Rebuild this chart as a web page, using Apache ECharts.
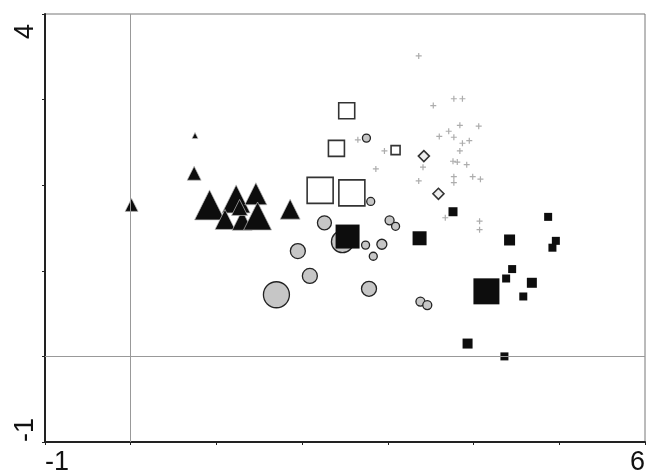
<!DOCTYPE html>
<html>
<head>
<meta charset="utf-8">
<script src="https://cdn.jsdelivr.net/npm/echarts@6/dist/echarts.min.js"></script>
<style>
html,body{margin:0;padding:0;background:#fff;}
#chart{width:648px;height:476px;}
</style>
</head>
<body>
<div id="chart"></div>
<script>
// [x, y, size]
var triangles = [
    [0.01, 1.77, 13], [0.74, 2.14, 14], [0.75, 2.58, 6],
    [0.92, 1.77, 30], [1.23, 1.84, 28], [1.46, 1.90, 22],
    [1.10, 1.60, 20], [1.30, 1.59, 20], [1.48, 1.64, 28],
    [1.27, 1.74, 16], [1.86, 1.72, 20]
];
var grayCircles = [
    [2.26, 1.56, 14], [1.95, 1.23, 15], [2.75, 2.55, 8], [2.80, 1.81, 8],
    [3.02, 1.59, 9], [3.09, 1.52, 8], [2.74, 1.30, 8], [2.93, 1.31, 10],
    [2.83, 1.17, 8], [2.47, 1.34, 22], [2.60, 1.44, 9], [1.70, 0.72, 26],
    [2.09, 0.94, 15], [2.78, 0.79, 15], [3.38, 0.64, 9], [3.46, 0.60, 9]
];
var openSquares = [
    [2.52, 2.87, 16], [2.40, 2.43, 16], [2.21, 1.94, 26],
    [2.58, 1.91, 26], [3.09, 2.41, 9]
];
var blackSquares = [
    [2.53, 1.40, 24], [3.37, 1.38, 14], [3.76, 1.69, 9], [4.42, 1.36, 11],
    [4.87, 1.63, 8], [4.96, 1.35, 8], [4.92, 1.27, 8], [4.45, 1.02, 8],
    [4.38, 0.91, 8], [4.68, 0.86, 10], [4.58, 0.70, 8], [4.15, 0.76, 26],
    [3.93, 0.15, 10], [4.36, 0.00, 8]
];
var diamonds = [
    [3.42, 2.34, 11], [3.59, 1.90, 11]
];
var pluses = [
    [3.36, 3.51], [3.77, 3.01], [3.87, 3.01], [3.53, 2.93], [3.84, 2.70],
    [4.06, 2.69], [3.71, 2.63], [3.60, 2.57], [3.77, 2.56], [3.87, 2.49],
    [3.95, 2.52], [3.84, 2.40], [3.76, 2.28], [3.81, 2.27], [3.92, 2.24],
    [3.41, 2.21], [3.77, 2.10], [3.77, 2.03], [3.99, 2.10], [4.08, 2.07],
    [3.36, 2.05], [3.67, 1.62], [4.07, 1.48], [4.07, 1.58], [2.65, 2.53],
    [2.96, 2.40], [2.86, 2.19]
];
var xTickLabels = ['-1', '6'];
var yTickLabels = ['-1', '4'];

var plusPath = 'path://M4,0L6,0L6,4L10,4L10,6L6,6L6,10L4,10L4,6L0,6L0,4L4,4Z';
var fontFam = 'Liberation Sans, Arial, sans-serif';

function bySize(v){ return v[2]; }
function edgeLabel(list){
    return function(v){
        var s = String(v);
        if(list.indexOf(s) < 0) return '';
        return s == list[list.length-1] ? '{top|' + s + '}' : s;
    };
}

var chart = echarts.init(document.getElementById('chart'), null, {renderer:'canvas'});
chart.setOption({
    animation:false,
    backgroundColor:'#fff',
    grid:{left:45, right:3, top:14, bottom:32, show:true, borderColor:'#777', borderWidth:1},
    xAxis:{
        type:'value', min:-1, max:6, interval:1,
        axisLine:{onZero:false, lineStyle:{color:'#222', width:2}},
        axisTick:{show:true, length:3, lineStyle:{color:'#222'}},
        splitLine:{show:false},
        axisLabel:{
            color:'#111', fontSize:27, fontFamily:fontFam, margin:7,
            showMinLabel:true, showMaxLabel:true,
            alignMinLabel:'left', alignMaxLabel:'right',
            formatter:edgeLabel(xTickLabels),
            rich:{top:{fontSize:27, fontFamily:fontFam, color:'#111'}}
        }
    },
    yAxis:{
        type:'value', min:-1, max:4, interval:1,
        axisLine:{onZero:false, lineStyle:{color:'#222', width:2}},
        axisTick:{show:true, length:3, lineStyle:{color:'#222'}},
        splitLine:{show:false},
        axisLabel:{
            color:'#111', fontSize:27, fontFamily:fontFam, margin:6, rotate:90,
            showMinLabel:true, showMaxLabel:true,
            alignMinLabel:'left', alignMaxLabel:'right',
            formatter:edgeLabel(yTickLabels),
            rich:{top:{fontSize:27, fontFamily:fontFam, color:'#111', padding:[0,10,0,0]}}
        }
    },
    series:[
        {
            type:'scatter', data:pluses, symbol:plusPath, symbolSize:6,
            itemStyle:{color:'#999'},
            markLine:{
                silent:true, symbol:'none', label:{show:false},
                lineStyle:{color:'#999', width:1, type:'solid'},
                data:[{xAxis:0}, {yAxis:0}]
            }
        },
        {
            type:'scatter', data:grayCircles, symbol:'circle', symbolSize:bySize,
            itemStyle:{color:'#c6c6c6', borderColor:'#222', borderWidth:1.3, opacity:1}
        },
        {
            type:'scatter', data:openSquares, symbol:'rect', symbolSize:bySize,
            itemStyle:{color:'#fff', borderColor:'#333', borderWidth:1.6, opacity:1}
        },
        {
            type:'scatter', data:diamonds, symbol:'diamond', symbolSize:bySize,
            itemStyle:{color:'#eee', borderColor:'#333', borderWidth:1.6, opacity:1}
        },
        {
            type:'scatter', data:triangles, symbol:'triangle', symbolSize:bySize,
            itemStyle:{color:'#0d0d0d', borderColor:'#bbb', borderWidth:0.7, opacity:1}
        },
        {
            type:'scatter', data:blackSquares, symbol:'rect', symbolSize:bySize,
            itemStyle:{color:'#0d0d0d', opacity:1}
        }
    ]
});
</script>
</body>
</html>
